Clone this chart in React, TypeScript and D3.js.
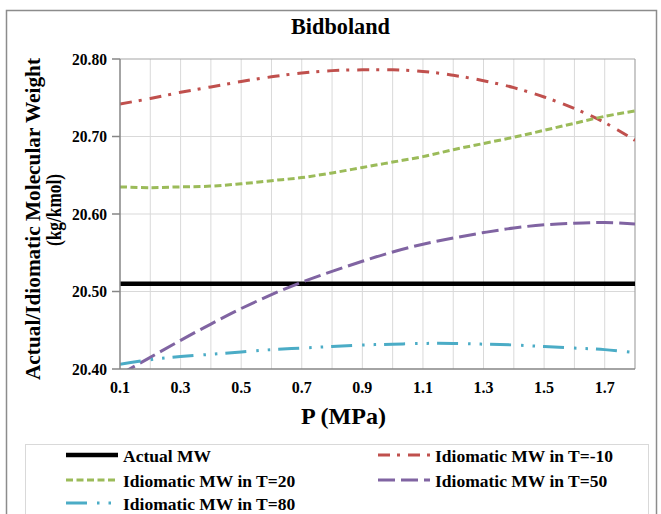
import React from "react";
import * as d3 from "d3";

const pressures = [0.1, 0.2, 0.3, 0.4, 0.5, 0.6, 0.7, 0.8, 0.9, 1.0, 1.1, 1.2, 1.3, 1.4, 1.5, 1.6, 1.7, 1.8];
const actualMW = [20.51, 20.51, 20.51, 20.51, 20.51, 20.51, 20.51, 20.51, 20.51, 20.51, 20.51, 20.51, 20.51, 20.51, 20.51, 20.51, 20.51, 20.51];
const mwTm10 = [20.742, 20.749, 20.757, 20.764, 20.771, 20.777, 20.782, 20.785, 20.786, 20.786, 20.784, 20.779, 20.772, 20.763, 20.751, 20.736, 20.718, 20.695];
const mwT20 = [20.635, 20.634, 20.635, 20.636, 20.639, 20.643, 20.647, 20.653, 20.66, 20.667, 20.674, 20.683, 20.691, 20.699, 20.708, 20.717, 20.726, 20.733];
const mwT50 = [20.393, 20.415, 20.437, 20.458, 20.478, 20.496, 20.512, 20.526, 20.539, 20.551, 20.561, 20.569, 20.576, 20.582, 20.586, 20.588, 20.589, 20.587];
const mwT80 = [20.406, 20.412, 20.416, 20.419, 20.422, 20.425, 20.427, 20.429, 20.431, 20.432, 20.433, 20.433, 20.432, 20.431, 20.429, 20.427, 20.425, 20.421];

const xTickLabels = ["0.1", "0.3", "0.5", "0.7", "0.9", "1.1", "1.3", "1.5", "1.7"];
const yTickLabels = ["20.40", "20.50", "20.60", "20.70", "20.80"];
const xGrid = [0.2, 0.3, 0.4, 0.5, 0.6, 0.7, 0.8, 0.9, 1.0, 1.1, 1.2, 1.3, 1.4, 1.5, 1.6, 1.7];

const seriesNames = [
  "Actual MW",
  "Idiomatic MW in T=-10",
  "Idiomatic MW in T=20",
  "Idiomatic MW in T=50",
  "Idiomatic MW in T=80",
];

const FONT = "Liberation Serif";
const tStyle = { fontFamily: FONT, fontWeight: 700 } as const;

export default function App() {
  const left = 120, right = 635, top = 59, bottom = 369;
  const x = d3.scaleLinear().domain([0.1, 1.8]).range([left, right]);
  const y = d3.scaleLinear().domain([20.4, 20.8]).range([bottom, top]);

  const series = [
    { name: seriesNames[0], values: actualMW, color: "#000000", width: 4.5, dash: "none" },
    { name: seriesNames[1], values: mwTm10, color: "#C0504D", width: 3, dash: "12,7,3,8" },
    { name: seriesNames[2], values: mwT20, color: "#9BBB59", width: 3, dash: "7,3.5" },
    { name: seriesNames[3], values: mwT50, color: "#8064A2", width: 3, dash: "17,6" },
    { name: seriesNames[4], values: mwT80, color: "#4BACC6", width: 3, dash: "21,10,2.5,9,2.5,8" },
  ];

  const line = d3
    .line<number>()
    .x((_, i) => x(pressures[i]))
    .y((v) => y(v))
    .curve(d3.curveCatmullRom.alpha(0.5));

  const legendItems = [
    { s: series[0], lx: 66, tx: 123, ry: 455 },
    { s: series[1], lx: 378, tx: 435, ry: 455 },
    { s: series[2], lx: 66, tx: 123, ry: 480 },
    { s: series[3], lx: 378, tx: 435, ry: 480 },
    { s: series[4], lx: 66, tx: 123, ry: 503 },
  ];

  return (
    <svg
      width={661}
      height={514}
      style={{ position: "absolute", left: 0, top: 0, background: "#fff", fontFamily: FONT }}
    >
      <defs>
        <clipPath id="plotClip">
          <rect x={left} y={top} width={right - left} height={bottom - top} />
        </clipPath>
      </defs>
      <rect x={0} y={0} width={661} height={514} fill="#fff" />
      <rect x={6.5} y={10.5} width={650} height={520} fill="#fff" stroke="#8c8c8c" strokeWidth={1.5} />

      <text x={340.5} y={34} textAnchor="middle" fontSize={23} style={tStyle} textLength={99} lengthAdjust="spacingAndGlyphs">
        Bidboland
      </text>

      {xGrid.map((g) => (
        <line key={"vx" + g} x1={x(g)} x2={x(g)} y1={top} y2={bottom} stroke="#D9D9D9" strokeWidth={1} />
      ))}
      {yTickLabels.slice(1, 4).map((t) => (
        <line key={"hy" + t} x1={left} x2={right} y1={y(+t)} y2={y(+t)} stroke="#D9D9D9" strokeWidth={1} />
      ))}
      <line x1={left} x2={right} y1={top} y2={top} stroke="#A6A6A6" strokeWidth={1.2} />
      <line x1={right} x2={right} y1={top} y2={bottom} stroke="#A6A6A6" strokeWidth={1.2} />

      <g clipPath="url(#plotClip)">
        {series.map((s) => (
          <path
            key={s.name}
            d={line(s.values) || ""}
            fill="none"
            stroke={s.color}
            strokeWidth={s.width}
            strokeDasharray={s.dash}
          />
        ))}
      </g>

      <line x1={left} x2={left} y1={top} y2={bottom} stroke="#868686" strokeWidth={1.5} />
      <line x1={left} x2={right} y1={bottom} y2={bottom} stroke="#868686" strokeWidth={1.5} />
      {yTickLabels.map((t) => (
        <g key={"yt" + t}>
          <line x1={112} x2={left} y1={y(+t)} y2={y(+t)} stroke="#868686" strokeWidth={1.5} />
          <text x={107} y={y(+t) + 5.5} textAnchor="end" fontSize={16.5} style={tStyle} textLength={35} lengthAdjust="spacingAndGlyphs">
            {t}
          </text>
        </g>
      ))}
      {xTickLabels.map((t) => (
        <text key={"xt" + t} x={x(+t)} y={393} textAnchor="middle" fontSize={16} style={tStyle}>
          {t}
        </text>
      ))}

      <text x={343.5} y={424} textAnchor="middle" fontSize={23} style={tStyle} textLength={85} lengthAdjust="spacingAndGlyphs">
        P (MPa)
      </text>

      <text
        transform="translate(40,219) rotate(-90)"
        textAnchor="middle"
        fontSize={21}
        style={tStyle}
        textLength={322}
        lengthAdjust="spacingAndGlyphs"
      >
        Actual/Idiomatic Molecular Weight
      </text>
      <text
        transform="translate(61,210) rotate(-90)"
        textAnchor="middle"
        fontSize={21}
        style={tStyle}
        textLength={72}
        lengthAdjust="spacingAndGlyphs"
      >
        (kg/kmol)
      </text>

      <rect x={25.5} y={444.5} width={623} height={80} fill="#fff" stroke="#D9D9D9" strokeWidth={1} />
      {legendItems.map(({ s, lx, tx, ry }) => (
        <g key={"lg" + s.name}>
          <line x1={lx} x2={lx + 52} y1={ry} y2={ry} stroke={s.color} strokeWidth={s.width} strokeDasharray={s.dash} />
          <text x={tx} y={ry + 6.5} fontSize={17.5} style={tStyle}>
            {s.name}
          </text>
        </g>
      ))}
    </svg>
  );
}
